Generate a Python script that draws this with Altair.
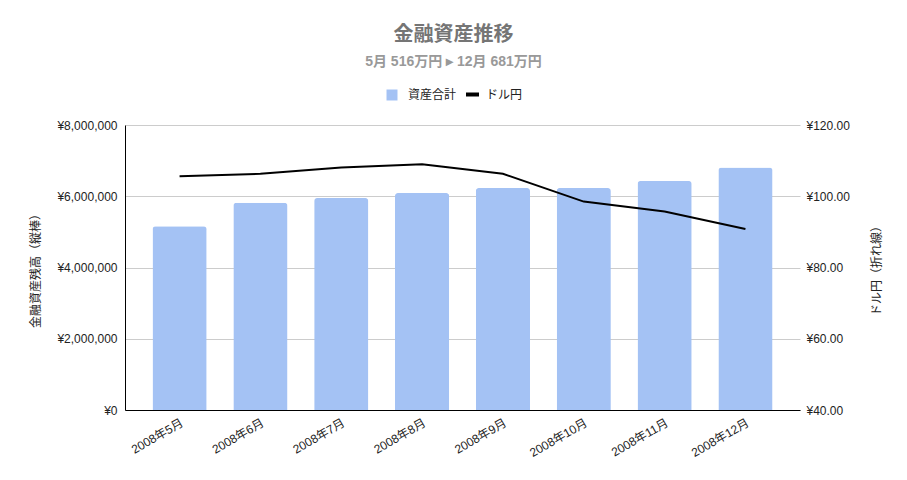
import altair as alt
import pandas as pd

months = ["2008年5月", "2008年6月", "2008年7月", "2008年8月",
          "2008年9月", "2008年10月", "2008年11月", "2008年12月"]
assets = [5160000, 5820000, 5950000, 6090000, 6230000, 6230000, 6430000, 6810000]
usdjpy = [105.6, 106.3, 108.1, 109.0, 106.3, 98.5, 95.7, 90.8]
left_ticks = [0, 2000000, 4000000, 6000000, 8000000]
right_ticks = [40, 60, 80, 100, 120]

df = pd.DataFrame({"month": months, "assets": assets, "usdjpy": usdjpy,
                   "s1": "資産合計", "s2": "ドル円"})

FONT = "Liberation Sans, Noto Sans CJK JP, sans-serif"
CJK = "Noto Sans CJK JP, Liberation Sans, sans-serif"

x = alt.X("month:N", sort=months, title=None,
          scale=alt.Scale(paddingInner=0.33, paddingOuter=0.34),
          axis=alt.Axis(labelAngle=-30, labelAlign="right", labelBaseline="top",
                        labelPadding=7, ticks=False, domainColor="#000000",
                        labelColor="#222222", labelFontSize=12, labelFont=FONT))

bars = alt.Chart(df).mark_bar(cornerRadiusTopLeft=3, cornerRadiusTopRight=3).encode(
    x=x,
    y=alt.Y("assets:Q", scale=alt.Scale(domain=[0, 8000000], nice=False),
            axis=alt.Axis(values=left_ticks, labelExpr='"¥" + format(datum.value, ",")',
                          title="金融資産残高（縦棒）", grid=True, gridColor="#cccccc",
                          ticks=False, domainColor="#000000", labelPadding=8,
                          titlePadding=14, labelColor="#222222", labelFontSize=12,
                          labelFont=FONT, titleFont=CJK, titleFontSize=12,
                          titleFontWeight="normal", titleColor="#222222")),
    color=alt.Color("s1:N", scale=alt.Scale(range=["#a4c2f4"]),
                    legend=alt.Legend(title=None, orient="none", legendX=261, legendY=-36,
                                      symbolType="square", symbolSize=121,
                                      symbolStrokeWidth=0, labelFont=CJK, labelFontSize=12,
                                      labelColor="#222222", labelOffset=10, padding=0))
)

line = alt.Chart(df).mark_line(strokeWidth=2).encode(
    x=x,
    y=alt.Y("usdjpy:Q", scale=alt.Scale(domain=[40, 120], nice=False),
            axis=alt.Axis(orient="right", values=right_ticks,
                          labelExpr='"¥" + format(datum.value, ".2f")',
                          title="ドル円（折れ線）", titleAngle=270, grid=False, domain=False,
                          ticks=False, labelPadding=6, titlePadding=34,
                          labelColor="#222222", labelFontSize=12, labelFont=FONT,
                          titleFont=CJK, titleFontSize=12, titleFontWeight="normal",
                          titleColor="#222222")),
    color=alt.Color("s2:N", scale=alt.Scale(range=["#000000"]),
                    legend=alt.Legend(title=None, orient="none", legendX=339, legendY=-39,
                                      symbolType="stroke", symbolSize=169,
                                      symbolStrokeWidth=4, labelFont=CJK, labelFontSize=12,
                                      labelColor="#222222", labelOffset=5, padding=0))
)

chart = alt.layer(bars, line).resolve_scale(y="independent", color="independent").properties(
    width=675, height=285,
    autosize=alt.AutoSizeParams(type="none"),
    padding={"left": 117, "top": 117, "right": 90, "bottom": 55},
    title=alt.TitleParams(text="金融資産推移", subtitle="5月 516万円 ▸ 12月 681万円",
                          font=CJK, fontSize=20, fontWeight="bold", color="#757575",
                          subtitleFont=FONT, subtitleFontSize=14, subtitleFontWeight="bold",
                          subtitleColor="#999999", anchor="middle", dx=-9, offset=17,
                          subtitlePadding=10)
).configure_view(stroke=None)

chart.save("out.html", embed_options={"renderer": "svg", "actions": False})
